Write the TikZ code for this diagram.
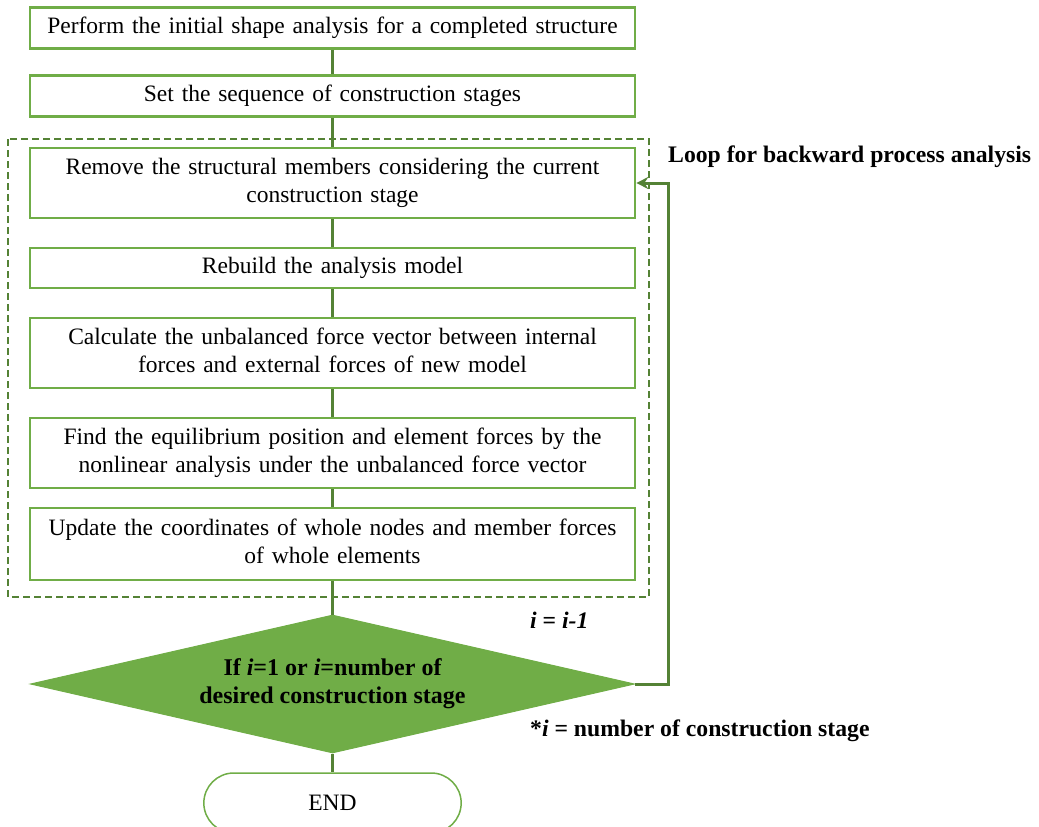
\documentclass[tikz,border=0pt]{standalone}
\usepackage{fontspec}
\setmainfont{Liberation Serif}
\usetikzlibrary{shapes.geometric,shapes.misc,arrows.meta}
\definecolor{boxgreen}{HTML}{70AD47}
\definecolor{darkgreen}{HTML}{548235}
\tikzset{
  procbox/.style={draw=boxgreen, line width=2.6pt, fill=white, minimum width=605pt, text width=595pt, align=center, inner sep=0pt, font=\fontsize{23.5}{28}\selectfont},
  conn/.style={draw=darkgreen, line width=3pt},
  lbl/.style={font=\fontsize{23.7}{28}\selectfont\bfseries, inner sep=0pt}
}
\begin{document}
\begin{tikzpicture}[x=1pt,y=-1pt]
\useasboundingbox (0,0) rectangle (1039,827);
\clip (0,0) rectangle (1039,827);
% dashed loop frame
\draw[darkgreen, line width=2.2pt, dash pattern=on 7pt off 4pt] (8,139) rectangle (649,597);
% nodes
\node[procbox, minimum height=41pt] (b1) at (332.5,28) {\strut Perform the initial shape analysis for a completed structure};
\node[procbox, minimum height=41pt] (b2) at (332.5,96) {\strut Set the sequence of construction stages};
\node[procbox, minimum height=70pt] (b3) at (332.5,183) {\strut Remove the structural members considering the current\\\strut construction stage};
\node[procbox, minimum height=40pt] (b4) at (332.5,268) {\strut Rebuild the analysis model};
\node[procbox, minimum height=70pt] (b5) at (332.5,353) {\strut Calculate the unbalanced force vector between internal\\\strut forces and external forces of new model};
\node[procbox, minimum height=70pt] (b6) at (332.5,453) {\strut Find the equilibrium position and element forces by the\\\strut nonlinear analysis under the unbalanced force vector};
\node[procbox, minimum height=72pt] (b7) at (332.5,544) {\strut Update the coordinates of whole nodes and member forces\\\strut of whole elements};
\node[diamond, aspect=4.38, fill=boxgreen, draw=boxgreen, line width=1pt, minimum width=604pt, minimum height=138pt, inner sep=0pt, align=center, font=\fontsize{24}{28}\selectfont\bfseries] (dec) at (332.5,684) {If \textit{i}=1 or \textit{i}=number of\\desired construction stage};
\node[rounded rectangle, draw=boxgreen, line width=1.5pt, fill=white, minimum width=264pt, minimum height=60pt, font=\fontsize{23.5}{28}\selectfont] (end) at (332.5,803) {END};
% connectors
\draw[conn] (b1.south) -- (b2.north);
\draw[conn] (b2.south) -- (b3.north);
\draw[conn] (b3.south) -- (b4.north);
\draw[conn] (b4.south) -- (b5.north);
\draw[conn] (b5.south) -- (b6.north);
\draw[conn] (b6.south) -- (b7.north);
\draw[conn] (b7.south) -- (dec.north);
\draw[conn] (dec.south) -- (end.north);
\coordinate (lp) at (668,684);
\draw[conn, -{Stealth[length=12pt,width=12pt]}] (dec.east) -- (lp) |- (b3.east);
% labels
\node[lbl, anchor=west] (loop) at (668,157) {Loop for backward process analysis};
\node[lbl, anchor=west] (idec) at (530,620) {\textit{i} = \textit{i-1}};
\node[lbl, anchor=west] (inote) at (530,731) {*\textit{i} = number of construction stage};
\end{tikzpicture}
\end{document}
